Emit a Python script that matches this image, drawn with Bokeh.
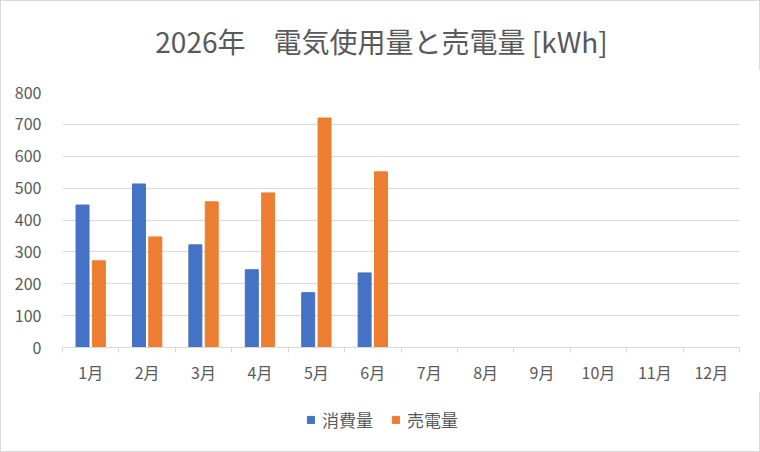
from bokeh.embed import file_html
from bokeh.layouts import column
from bokeh.models import ColumnDataSource, FixedTicker, Label, Legend, LegendItem, Range1d
from bokeh.plotting import figure
from bokeh.resources import INLINE

# data
months = ["1月", "2月", "3月", "4月", "5月", "6月", "7月", "8月", "9月", "10月", "11月", "12月"]
used = [447, 513, 322, 244, 172, 234]      # 消費量
sold = [272, 347, 457, 485, 720, 551]      # 売電量
y_ticks = [0, 100, 200, 300, 400, 500, 600, 700, 800]
title = "2026年　電気使用量と売電量 [kWh]"

FONT = "Noto Sans CJK JP"
TEXT = "#595959"
GRID = "#d9d9d9"
BLUE = "#4472C4"
ORANGE = "#ED7D31"
EDGE = "1px solid #d9d9d9"
LEFT = 61  # frame left edge; the column lines all frames up on it

centers = [i + 0.5 for i in range(len(months))]
bar_w = 0.23
shift = 0.145

src_used = ColumnDataSource(dict(x=[c - shift for c in centers[:len(used)]], top=used))
src_sold = ColumnDataSource(dict(x=[c + shift for c in centers[:len(sold)]], top=sold))


def strip(h, sides):
    # plain figure used only to hold a text block (title / legend)
    f = figure(
        width=760, height=h, x_range=Range1d(100, 101), y_range=Range1d(1000, 1001),
        x_axis_type=None, y_axis_type=None,
        output_backend="svg", toolbar_location=None, min_border=0,
    )
    f.styles = {**{"border-" + s: EDGE for s in sides}, "box-sizing": "border-box"}
    f.outline_line_color = None
    f.grid.grid_line_color = None
    return f


# title strip
t = strip(70, ["top", "left", "right"])
t.add_layout(Label(
    x=380 - LEFT, y=31, x_units="screen", y_units="screen", text=title,
    text_align="center", text_baseline="middle",
    text_font=FONT, text_font_size="28px", text_color=TEXT,
))

# main chart
p = figure(
    frame_width=675, frame_height=255,
    x_range=Range1d(0, len(months)), y_range=Range1d(0, 800),
    output_backend="svg", toolbar_location=None,
    min_border_left=LEFT, min_border_right=24, min_border_top=22, min_border_bottom=45,
)
p.styles = {"border-left": EDGE, "border-right": EDGE, "box-sizing": "border-box"}
p.outline_line_color = None

p.vbar(x="x", top="top", width=bar_w, source=src_used, color=BLUE)
p.vbar(x="x", top="top", width=bar_w, source=src_sold, color=ORANGE)

# x axis: labels at centres, small ticks at the category edges
xa = p.xaxis[0]
xa.ticker = FixedTicker(ticks=centers, minor_ticks=list(range(len(months) + 1)))
xa.major_label_overrides = {c: m for c, m in zip(centers, months)}
xa.major_tick_line_color = None
xa.minor_tick_line_color = GRID
xa.minor_tick_out = 5
xa.minor_tick_in = 0
xa.axis_line_color = GRID
xa.major_label_standoff = 6
xa.major_label_text_font = FONT
xa.major_label_text_font_size = "16px"
xa.major_label_text_color = TEXT

# y axis
ya = p.yaxis[0]
ya.ticker = FixedTicker(ticks=y_ticks)
ya.axis_line_color = None
ya.major_tick_line_color = None
ya.minor_tick_line_color = None
ya.major_label_standoff = 15
ya.major_label_text_font = FONT
ya.major_label_text_font_size = "16px"
ya.major_label_text_color = TEXT

p.xgrid.grid_line_color = None
p.ygrid.grid_line_color = GRID
p.ygrid.ticker = FixedTicker(ticks=y_ticks)

# legend strip under the chart (same sources, ranges keep the bars out of view)
q = strip(60, ["bottom", "left", "right"])
k1 = q.vbar(x="x", top="top", width=bar_w, source=src_used, color=BLUE)
k2 = q.vbar(x="x", top="top", width=bar_w, source=src_sold, color=ORANGE)

legend = Legend(
    items=[LegendItem(label="消費量", renderers=[k1]), LegendItem(label="売電量", renderers=[k2])],
    orientation="horizontal", location=(305 - LEFT, 20),
    label_text_font=FONT, label_text_font_size="17px", label_text_color=TEXT,
    glyph_width=9, glyph_height=9, spacing=18, label_standoff=7,
    border_line_color=None, background_fill_alpha=0, margin=0, padding=0,
)
q.add_layout(legend)

layout = column(t, p, q, spacing=0)
open("out.html", "w").write(file_html(layout, INLINE))
